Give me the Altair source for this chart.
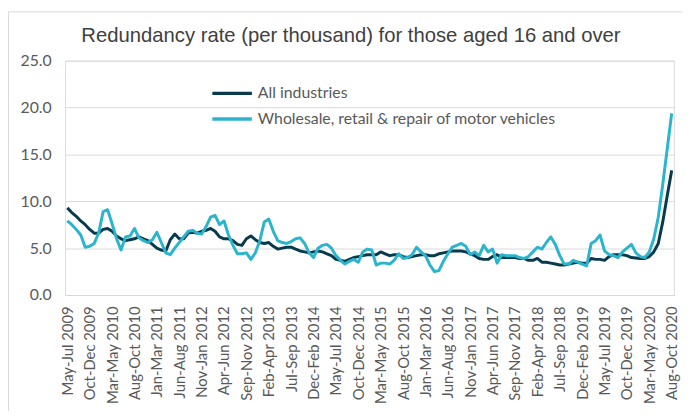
import altair as alt
import pandas as pd

months = ["Jan", "Feb", "Mar", "Apr", "May", "Jun", "Jul", "Aug", "Sep", "Oct", "Nov", "Dec"]

# Rolling three-month periods, May-Jul 2009 .. Aug-Oct 2020 (categories)
periods = []
for k in range(136):
    m0 = 4 + k  # May 2009 as month index 4
    start = months[m0 % 12]
    end_idx = m0 + 2
    end = months[end_idx % 12]
    year = 2009 + end_idx // 12
    periods.append(f"{start}-{end} {year}")

tick_labels = [periods[i] for i in range(0, 136, 5)]

all_industries = [
    9.3, 8.8, 8.4, 7.9, 7.5, 7.0, 6.6, 6.6, 7.0, 7.1,
    6.8, 6.3, 6.0, 5.8, 5.9, 6.0, 6.2, 6.0, 5.8, 5.4,
    5.0, 4.8, 4.7, 5.9, 6.5, 6.0, 6.0, 6.6, 6.7, 6.6,
    6.8, 6.9, 7.1, 6.8, 6.2, 6.0, 6.0, 5.8, 5.4, 5.3,
    6.0, 6.3, 5.9, 5.6, 5.5, 5.6, 5.2, 4.9, 5.0, 5.1,
    5.1, 4.9, 4.7, 4.6, 4.5, 4.6, 4.7, 4.6, 4.4, 4.2,
    3.8, 3.7, 3.6, 3.8, 4.0, 4.1, 4.2, 4.3, 4.3, 4.3,
    4.6, 4.4, 4.2, 4.3, 4.3, 4.1, 4.0, 4.1, 4.2, 4.3,
    4.3, 4.2, 4.2, 4.4, 4.5, 4.6, 4.7, 4.7, 4.7, 4.6,
    4.4, 4.2, 3.9, 3.8, 3.8, 4.1, 4.3, 4.0, 4.0, 4.0,
    4.0, 3.9, 3.9, 3.7, 3.7, 3.9, 3.5, 3.5, 3.4, 3.3,
    3.2, 3.2, 3.3, 3.4, 3.5, 3.4, 3.4, 3.9, 3.8, 3.8,
    3.7, 4.1, 4.3, 4.3, 4.3, 4.2, 4.0, 3.95, 3.9, 3.9,
    4.1, 4.6, 5.5, 7.8, 10.6, 13.3,
]

wholesale_retail = [
    7.9, 7.5, 7.0, 6.4, 5.1, 5.2, 5.5, 6.6, 8.9, 9.1,
    7.6, 6.0, 4.8, 6.2, 6.3, 7.1, 6.1, 5.8, 5.6, 5.9,
    6.7, 5.6, 4.5, 4.3, 5.0, 5.6, 6.2, 6.8, 6.9, 6.6,
    6.5, 7.3, 8.3, 8.5, 7.5, 7.9, 6.4, 5.3, 4.4, 4.4,
    4.5, 3.8, 4.5, 5.8, 7.8, 8.1, 6.8, 5.8, 5.6, 5.5,
    5.7, 6.0, 6.1, 5.5, 4.5, 4.0, 5.0, 5.3, 5.4, 5.0,
    4.2, 3.7, 3.3, 3.6, 3.8, 3.5, 4.6, 4.9, 4.8, 3.2,
    3.4, 3.4, 3.3, 3.7, 4.4, 3.9, 4.0, 4.3, 5.1, 4.6,
    4.2, 3.2, 2.5, 2.6, 3.6, 4.4, 5.1, 5.3, 5.5, 5.2,
    4.3, 4.6, 4.2, 5.3, 4.6, 4.9, 3.4, 4.3, 4.2, 4.2,
    4.2, 4.0, 3.9, 4.1, 4.6, 5.1, 4.9, 5.6, 6.2, 5.4,
    4.2, 3.3, 3.3, 3.7, 3.5, 3.3, 3.1, 5.5, 5.8, 6.4,
    4.7, 4.3, 4.2, 4.0, 4.6, 5.0, 5.4, 4.5, 4.1, 4.0,
    4.6, 6.0, 8.3, 11.8, 15.6, 19.4,
]

series_names = ["All industries", "Wholesale, retail & repair of motor vehicles"]
series_colors = ["#073b4c", "#2ab5cd"]
y_ticks = [0, 5, 10, 15, 20, 25]
chart_title = "Redundancy rate (per thousand) for those aged 16 and over"

rows = []
for i, p in enumerate(periods):
    rows.append({"period": p, "series": series_names[0], "value": all_industries[i], "order": 1})
    rows.append({"period": p, "series": series_names[1], "value": wholesale_retail[i], "order": 0})
df = pd.DataFrame(rows)

W, H = 616, 237
PL, PT = 57.75, 51

lines = alt.Chart(df).mark_line(strokeWidth=3, strokeJoin="round").encode(
    x=alt.X(
        "period:O",
        sort=periods,
        scale=alt.Scale(type="point", padding=0.5),
        axis=alt.Axis(
            values=tick_labels,
            title=None,
            labelAngle=270,
            labelAlign="right",
            labelBaseline="middle",
            labelPadding=11,
            ticks=False,
            domain=True,
            domainColor="#d9d9d9",
            labelFont="Lato",
            labelFontSize=15,
            labelColor="#595959",
            grid=False,
        ),
    ),
    y=alt.Y(
        "value:Q",
        scale=alt.Scale(domain=[0, 25], nice=False),
        axis=alt.Axis(
            values=y_ticks,
            format=".1f",
            title=None,
            domain=False,
            ticks=False,
            labelPadding=14,
            labelFont="Lato",
            labelFontSize=16,
            labelColor="#595959",
            gridColor="#d9d9d9",
            gridWidth=1,
        ),
    ),
    color=alt.Color(
        "series:N",
        scale=alt.Scale(domain=series_names, range=series_colors),
        legend=alt.Legend(
            title=None,
            orient="none",
            legendX=157,
            legendY=21,
            symbolType="M-2,0H2",
            symbolSize=400,
            symbolStrokeWidth=3.5,
            symbolFillColor="transparent",
            labelFont="Lato",
            labelFontSize=16,
            labelColor="#595959",
            labelOffset=14,
            labelLimit=500,
            rowPadding=6,
        ),
    ),
    order=alt.Order("order:Q"),
)

one = pd.DataFrame({"a": [0]})
frame_top = alt.Chart(one).mark_rule(color="#d9d9d9", strokeWidth=1).encode(
    x=alt.value(-PL + 0.5), x2=alt.value(W + 8), y=alt.value(-PT + 1.5)
)
frame_left = alt.Chart(one).mark_rule(color="#d9d9d9", strokeWidth=1).encode(
    x=alt.value(-PL + 0.5), y=alt.value(-PT + 1.5), y2=alt.value(H + 120)
)
title_text = alt.Chart(one).mark_text(
    font="Liberation Sans", fontSize=20.5, color="#404040", align="center", baseline="alphabetic"
).encode(x=alt.value(355 - 8 - PL), y=alt.value(-19), text=alt.value(chart_title))

chart = (
    alt.layer(frame_top, frame_left, title_text, lines)
    .properties(
        width=W,
        height=H,
        padding={"left": PL, "top": PT, "right": 690 - PL - W, "bottom": 403 - PT - H},
        autosize=alt.AutoSizeParams(type="none"),
    )
    .configure_view(stroke=None)
    .configure(background="white")
)

chart.save("out.html", embed_options={"renderer": "svg", "actions": False})
